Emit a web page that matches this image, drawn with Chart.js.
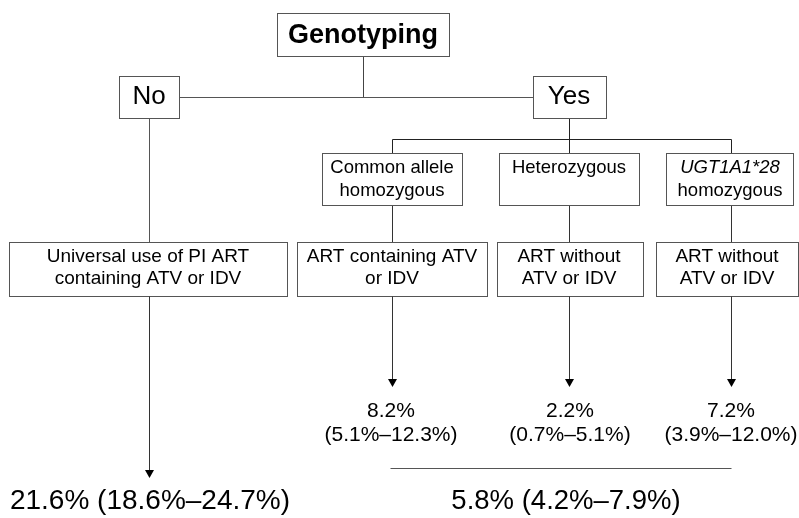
<!DOCTYPE html>
<html><head><meta charset="utf-8">
<script src="https://cdn.jsdelivr.net/npm/chart.js@4"></script>
<style>html,body{margin:0;padding:0;background:#fff}#wrap{width:799px;height:518px;position:relative}</style>
</head><body><div id="wrap"><canvas id="c" width="799" height="518"></canvas></div>
<script>
// ---- data ----
const rootLabel = 'Genotyping';
const branchLabels = ['No', 'Yes'];
const genotypeLabels = [['Common allele', 'homozygous'], ['Heterozygous'], ['UGT1A1*28', 'homozygous']];
const strategyLabels = [['Universal use of PI ART', 'containing ATV or IDV'], ['ART containing ATV', 'or IDV'], ['ART without', 'ATV or IDV'], ['ART without', 'ATV or IDV']];
const outcomeEstimates = [21.6, 8.2, 2.2, 7.2];
const outcomeLower = [18.6, 5.1, 0.7, 3.9];
const outcomeUpper = [24.7, 12.3, 5.1, 12.0];
const pooledValues = [5.8, 4.2, 7.9];

// ---- layout (value space of hidden linear scales) ----
const FONT = "'Liberation Sans', Arial, sans-serif";
const rootBox = {x1: 277, x2: 449, y1: 13, y2: 56, cx: 363};
const branchBoxes = [{x1: 119, x2: 179, y1: 76, y2: 118, cx: 149}, {x1: 533, x2: 606, y1: 76, y2: 118, cx: 569}];
const genoBoxes = [{x1: 322, x2: 462, y1: 153, y2: 205, cx: 392}, {x1: 499, x2: 639, y1: 153, y2: 205, cx: 569}, {x1: 666, x2: 793, y1: 153, y2: 205, cx: 730}];
const stratBoxes = [{x1: 9, x2: 287, y1: 242, y2: 296, cx: 148}, {x1: 297, x2: 487, y1: 242, y2: 296, cx: 392}, {x1: 497, x2: 643, y1: 242, y2: 296, cx: 569}, {x1: 656, x2: 798, y1: 242, y2: 296, cx: 727}];
const stemX = [149, 392, 569, 731];

const fmt = v => v.toFixed(1) + '%';

const flowPlugin = {
  id: 'flow',
  afterDraw(chart) {
    const ctx = chart.ctx;
    const X = v => chart.scales.x.getPixelForValue(v);
    const Y = v => chart.scales.y.getPixelForValue(v);
    const px = v => Math.round(v) + 0.5;
    ctx.save();
    const line = (x1, y1, x2, y2, col) => {
      ctx.strokeStyle = col || '#444'; ctx.lineWidth = 1;
      ctx.beginPath(); ctx.moveTo(px(X(x1)), px(Y(y1))); ctx.lineTo(px(X(x2)), px(Y(y2))); ctx.stroke();
    };
    const box = b => {
      ctx.fillStyle = '#fff';
      ctx.fillRect(X(b.x1), Y(b.y1), X(b.x2) - X(b.x1), Y(b.y2) - Y(b.y1));
      ctx.strokeStyle = '#555'; ctx.lineWidth = 1;
      ctx.strokeRect(px(X(b.x1)), px(Y(b.y1)), Math.round(X(b.x2) - X(b.x1)), Math.round(Y(b.y2) - Y(b.y1)));
    };
    const text = (s, x, y, size, weight, style) => {
      ctx.fillStyle = '#000';
      ctx.font = (style || 'normal') + ' ' + (weight || 'normal') + ' ' + size + 'px ' + FONT;
      ctx.textAlign = 'center'; ctx.textBaseline = 'middle';
      ctx.fillText(s, X(x), Y(y));
    };
    const arrow = (x, y1, y2) => {
      line(x, y1, x, y2 - 7, '#333');
      ctx.fillStyle = '#000';
      const cx = Math.round(X(x)) + 0.5;
      ctx.beginPath();
      ctx.moveTo(cx - 4.5, Y(y2 - 8)); ctx.lineTo(cx + 4.5, Y(y2 - 8)); ctx.lineTo(cx, Y(y2)); ctx.closePath(); ctx.fill();
    };

    // connectors
    line(rootBox.cx, rootBox.y2, rootBox.cx, 97);
    line(branchBoxes[0].x2, 97, branchBoxes[1].x1, 97, '#555');
    line(stemX[0], branchBoxes[0].y2, stemX[0], stratBoxes[0].y1, '#555');
    line(stemX[2], branchBoxes[1].y2, stemX[2], 139, '#222');
    line(stemX[1], 139, stemX[3], 139, '#222');
    for (let i = 1; i < 4; i++) {
      line(stemX[i], 139, stemX[i], genoBoxes[i - 1].y1, '#222');
      line(stemX[i], genoBoxes[i - 1].y2, stemX[i], stratBoxes[i].y1, '#333');
    }

    // boxes
    box(rootBox);
    text(rootLabel, rootBox.cx, 35.5, 27, 'bold');
    branchBoxes.forEach((b, i) => { box(b); text(branchLabels[i], b.cx, 97, 26); });
    genoBoxes.forEach((b, i) => {
      box(b);
      genotypeLabels[i].forEach((s, j) => text(s, b.cx, 168 + j * 23, 18.5, 'normal', (i === 2 && j === 0) ? 'italic' : 'normal'));
    });
    stratBoxes.forEach((b, i) => {
      box(b);
      strategyLabels[i].forEach((s, j) => text(s, b.cx, 257 + j * 22, 19));
    });

    // arrows + outcomes
    arrow(stemX[0], stratBoxes[0].y2, 478);
    text(fmt(outcomeEstimates[0]) + ' (' + fmt(outcomeLower[0]) + '\u2013' + fmt(outcomeUpper[0]) + ')', 150, 501, 28);
    const outX = [391, 570, 731];
    for (let i = 1; i < 4; i++) {
      arrow(stemX[i], stratBoxes[i].y2, 387);
      text(fmt(outcomeEstimates[i]), outX[i - 1], 411, 21);
      text('(' + fmt(outcomeLower[i]) + '\u2013' + fmt(outcomeUpper[i]) + ')', outX[i - 1], 435, 21);
    }
    line(390, 468, 731, 468, '#555');
    text(fmt(pooledValues[0]) + ' (' + fmt(pooledValues[1]) + '\u2013' + fmt(pooledValues[2]) + ')', 566, 501, 27.5);
    ctx.restore();
  }
};

new Chart(document.getElementById('c'), {
  type: 'scatter',
  data: { datasets: [{ label: 'outcomes', data: [], pointRadius: 0 }] },
  options: {
    responsive: false, animation: false, events: [],
    layout: { padding: 0 },
    plugins: { legend: { display: false }, tooltip: { enabled: false } },
    scales: {
      x: { type: 'linear', min: 0, max: 799, display: false },
      y: { type: 'linear', min: 0, max: 518, reverse: true, display: false }
    }
  },
  plugins: [flowPlugin]
});
</script></body></html>
